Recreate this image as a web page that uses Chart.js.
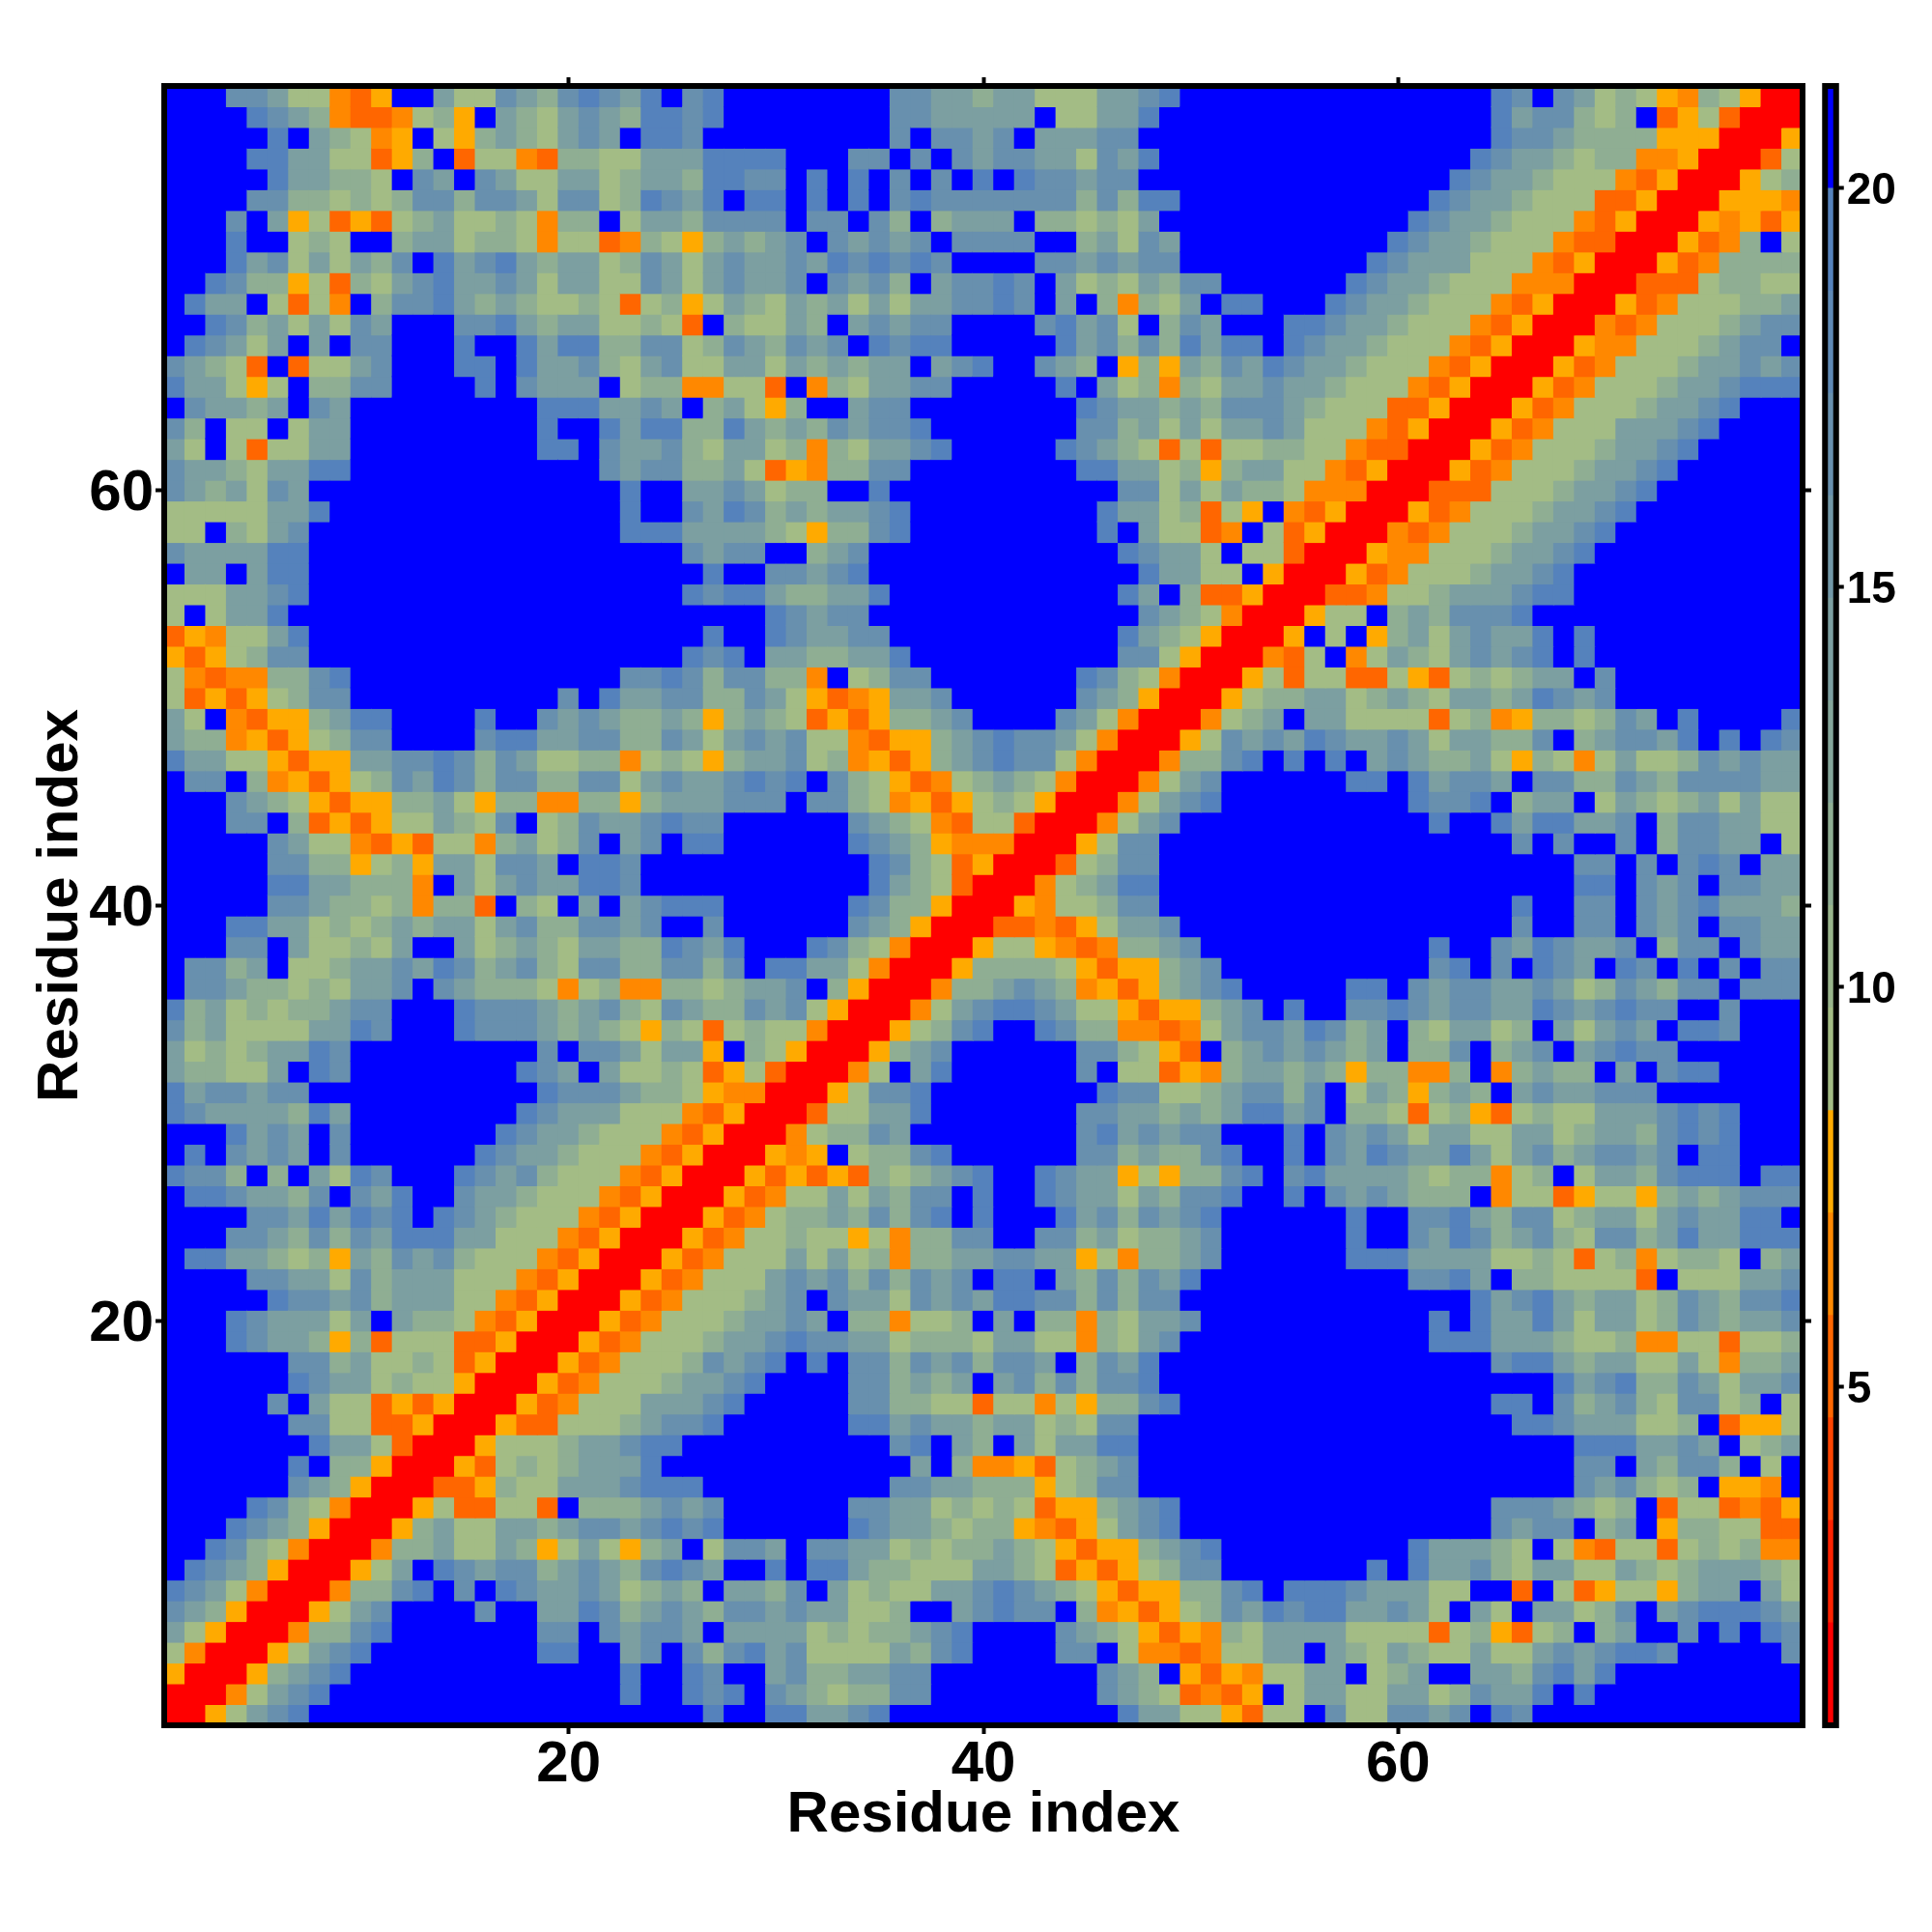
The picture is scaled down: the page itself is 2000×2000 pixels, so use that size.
<!DOCTYPE html>
<html>
<head>
<meta charset="utf-8">
<title>Residue distance map</title>
<script src="https://cdn.jsdelivr.net/npm/chart.js@4/dist/chart.umd.min.js"></script>
<style>
  body { margin: 0; background: #fff; }
  #map { position: absolute; left: 0; top: 0; }
  #bar { position: absolute; left: 1870px; top: 0; }
</style>
</head>
<body>
<canvas id="map" width="2000" height="2000"></canvas>
<canvas id="bar" width="130" height="2000"></canvas>
<script>
// distance values
const cellCodes = ['R', 'X', 'O', 'Y', 'a', 'b', 'c', 'd', 'e', 'B'];
const cellValues = [1.4, 5.25, 6.5, 7.8, 9.1, 11.6, 14.2, 16.8, 19.3, 21];

// colour key: 16 levels from barMin to barMax
const barMin = 0.76;
const barMax = 21.27;
const levelColors = [
  '#ff0000', '#ff2200', '#ff4400', '#ff6600', '#ff8800', '#ffaa00',
  '#a3bc85', '#99b58c', '#8fae93', '#85a69a', '#7c9fa1', '#7298a8',
  '#6890ae', '#5f89b5', '#5582bc', '#0000ff'
];

const mapTicks = [20, 40, 60];
const barTicks = [5, 10, 15, 20];
const axisTitle = 'Residue index';
const residueCount = 79;

// the map is symmetric: one line per residue, from the diagonal to residue 79
// a letter is one cell, a number after it repeats it
const upperRows = [
  'RRYacdeB19 eBBeeccdeB11eccaaY XaaBdaaddcdBedB13',
  'RROacdeB14eBBe deBdcbabbddB8dcbaXOX YBaccaaccabdcceBeB10',
  'RRYbcdeB13eBBe dBBcdbbccddB8dcbBYXY OaaccBabcBBccbdeceB9',
  'RRYacdeB8eeBBcdBd bdecdaaaacbdeB4ddBaOOXOa accBcbacbaacaacdcdeedB5d',
  'RRObbdeB7ddBdcddc BccccababbcdeB4dcbaYXYOb accccaaaaXabYXabBbcBBdBeBed',
  'RRYacdB4dBBccedbcdc bddcdccaabBBcdeddBbOYXYabd cedeeccdcaBcaBccabdBcdeeedc',
  'RRObbdeBdBedccdcabcb BccbdBcabaaccdedcbaYXYYbbd eBeeedcccaaBBXBaXYaaYbccBca',
  'RRYacBedcddbcdcbded cBBeBeecbbaaaccbaXYXYabddB B6eBeccdbaccaacbabcccba',
  'RRObbcaacbYacaYbcB addcBddccababbcbaYXYYbcdeB B8ecccbaBaOXaaXababOO',
  'RRYbcaaccbcddcded eB6edccbabbYOXYacdeB3 B12dcddBbcBYbbaaXX',
  'RRYaXXaaXBbbbcdc dB6ddccababaXYYbcdeB3 B12dddcbabBXaaXOXY',
  'RRXXYbaacccdeee B9ddccbbbYabddB5 B16dcdbabBYYOB',
  'RRYXababccceBB B10cBbOOYXabcdB5 B16ddBcbddbBaB',
  'RRYaaabccdeeB B9deBcbBcacceeB5 B16eeeccdcBabc',
  'RRYXXaaabcdd eB6eecdccbccabaddB5 B13eedcccaabBXYYa',
  'RRYXOaaaccc deB5ddbbaaXaaOaYbbdeB3 B12eeBdbcdbaddabBa',
  'RRYXOaaabc cdeB4ddbcbcBcdbdbddeB4 B15ecdebbdcaccd',
  'RRYXOaaab dcdeBeBddbdcdbddcBbdceB4 B12deecbccaacaObbc',
  'RRYXOaaa bccdeddccabbbaccaaObacdB3 B9eeecccbaabOOaaXaab',
  'RRYXOaa abccdcBbbOaabBcBbbObaccdBB B9eBeccecaccabdcbccd',
  'RRYXOa aabcdBdccadcdceeddbdbddB3 B11ecdecbccabdcbdde',
  'RRYXO aaacdcdbdbdcdBeeBcbdbdceBB B8ddecBbbaaaaXBaaaccd',
  'RRYX OaaacacabObbccddccYaObbcdB B5eeeccccaabaXabOabbaBbc',
  'RRY XOaabaaYaObbddBBddbcabbcdB B5eBBdcedbcdbaddbcecceee',
  'RR YXOabbcbdbdeBeBBBecdbdcdeB B5eBBddecbddabccacdcceeB',
  'R RYXOaacacbddBeBBedccacbdde BBeBdcdcbbbBOaaXYaaYbcbcddd',
  'RRYXYXYXbabcdeBBedccYaYbbd eBdeccccbabbOabBaccbdeeeBee',
  'RRYOYBabbdeB6ddbcbbde BBeBdcedccecacdbcddcdBeeB3',
  'RROabbdcB8decdcddB BBeBdcdcaccaaccabccbdedeB3',
  'RRXaacceB7ddccbcbc eecdBbbaXabYXabaacccdedeB3',
  'RRYaddeB8eddaabc ddbdBacbYbcbBcdccdddB7',
  'RROaBceB6dBaaXYOb ccbcbYbbOObBObcbbBcBdeeB4',
  'RRYbcdB6ddbaYXBb cdcdcbcBbbdBbcdBcdeddB6',
  'RRYabdeBBedbbOOXOac ddcedbcBbaccabBcacdcBeedB3',
  'RROacdeedcaaYXYYbc dBeBBddedcddccedcdeddBBdB3',
  'RRObbcdcbOYXYbcde B5eeBdcddccdcabdcbddBddd',
  'RRYbbbbaYXYYbcdB B9deBdBedcBedBeBdBdd',
  'RRYaaYOXObbcdBB B9eBBdcedccdBbddBdcc',
  'RRXXOXYaccdB3 B13dBBddBdcdBddcc',
  'RRYOaabddB4 B13eBBddBdcdecccb',
  'RROabceeB4 B16eeBdcdBddcc',
  'RRXabddB4 B16ddBdBdedBcc',
  'RRYaddB4 B13dBdBBdBbddccBa',
  'RROacdB3 B9eBBeceeccdBbddccaa',
  'RROacdeB B8eddeBbccBacbabcacaa',
  'RROacdB B5eeBecddcBddbbdcbddddcc',
  'RRObbd eBeBeBcdcbbcaYbaOacaabdcdcc',
  'RRYad cdcedccdcaccbbdBbcddceBeBed',
  'RROa bcBccaaaaXabOYbbabdcBeB4e',
  'RRY abbccabcbaccbcedcdB9',
  'RR YaXaaXXaYXababccBdB9',
  'R ROXaBOacbacdcdeBeB10',
  'RRYBaBYbcacdcceBeB10',
  'RRYaaBbcbdddeB13',
  'RRXXOaabcccdeeB11',
  'RRYXOaaabccdeB11',
  'RRYOOaaabccdeB10',
  'RROXOaaabccdeB9',
  'RRYXOaaabccdeB8',
  'RRXXXaaabccdeB7',
  'RRYXOaaabccdeB6',
  'RRYXOaaabccdeB5',
  'RRYXOaaacccdeB4',
  'RRYXOaaabccdeB3',
  'RRYXOaaabccdeee',
  'RRYXOaaabccdcd',
  'RRYOOaaabcddB',
  'RROXOaaabcdd',
  'RRYXOaaabbc',
  'RRXXXabbaa',
  'RRYXObbbb',
  'RRYXObBa',
  'RRYOYXY',
  'RRYYYO',
  'RRYab',
  'RRXa',
  'RRY',
  'RR',
  'R'
];

const fontFamily = '"Liberation Sans", Arial, sans-serif';
const levelStep = (barMax - barMin) / levelColors.length;

function levelOf(value) {
  return Math.min(levelColors.length - 1, Math.floor((value - barMin) / levelStep));
}

// "RB3a" -> ['R','B','B','B','a']
function decodeRow(text) {
  const cells = [];
  for (const m of text.replace(/ /g, '').matchAll(/([A-Za-z])(\d*)/g)) {
    const count = m[2] ? parseInt(m[2]) : 1;
    for (let i = 0; i < count; i++) cells.push(m[1]);
  }
  return cells;
}

// build the cells, one bar per residue pair
const points = [];
const colors = [];
upperRows.forEach((text, r) => {
  const cells = decodeRow(text);
  if (cells.length !== residueCount - r) {
    throw new Error(`row ${r + 1} has ${cells.length} cells`);
  }
  cells.forEach((code, i) => {
    const value = cellValues[cellCodes.indexOf(code)];
    const color = levelColors[levelOf(value)];
    const a = r + 1;
    const b = r + 1 + i;
    points.push({ x: b, y: [a - 0.5, a + 0.5] });
    colors.push(color);
    if (a !== b) {
      points.push({ x: a, y: [b - 0.5, b + 0.5] });
      colors.push(color);
    }
  });
});

// thick black box round the plot area
const framePlugin = {
  id: 'frame',
  afterDraw(chart) {
    const { ctx, chartArea } = chart;
    ctx.save();
    ctx.strokeStyle = '#000';
    ctx.lineWidth = 6;
    ctx.strokeRect(chartArea.left, chartArea.top, chartArea.width, chartArea.height);
    ctx.restore();
  }
};

function useTicks(values) {
  return scale => { scale.ticks = values.map(value => ({ value })); };
}

function mapAxis(position, size, showLabels, title) {
  const horizontal = position === 'top' || position === 'bottom';
  const axis = {
    type: 'linear',
    position,
    min: 0.5,
    max: residueCount + 0.5,
    offset: false,
    afterBuildTicks: useTicks(mapTicks),
    afterFit(scale) {
      if (horizontal) scale.height = size; else scale.width = size;
    },
    border: { display: false },
    grid: { display: true, offset: false, drawOnChartArea: false, tickLength: 9, tickWidth: 4, tickColor: '#000' },
    ticks: {
      display: showLabels,
      autoSkip: false,
      maxRotation: 0,
      padding: horizontal ? -4 : 2,
      labelOffset: horizontal ? 0 : 4,
      color: '#000',
      font: { family: fontFamily, weight: 'bold', size: 60 }
    }
  };
  if (title) {
    axis.title = {
      display: true,
      text: axisTitle,
      color: '#000',
      font: { family: fontFamily, weight: 'bold', size: 60 },
      padding: title
    };
  }
  return axis;
}

new Chart(document.getElementById('map'), {
  type: 'bar',
  data: {
    datasets: [{
      data: points,
      backgroundColor: colors,
      borderWidth: 0,
      inflateAmount: 0.5,
      barPercentage: 1,
      categoryPercentage: 1,
      grouped: false
    }]
  },
  options: {
    responsive: false,
    animation: false,
    events: [],
    layout: { padding: 0 },
    plugins: { legend: { display: false }, tooltip: { enabled: false } },
    scales: {
      x: mapAxis('bottom', 214, true, { top: 0, bottom: 85 }),
      x2: mapAxis('top', 89, false),
      y: mapAxis('left', 170, true, { top: 27, bottom: 0 }),
      y2: mapAxis('right', 134, false)
    }
  },
  plugins: [framePlugin]
});

// colour key
const barLevels = levelColors.map((_, i) => [barMin + i * levelStep, barMin + (i + 1) * levelStep]);

new Chart(document.getElementById('bar'), {
  type: 'bar',
  data: {
    labels: ['key'],
    datasets: barLevels.map((level, i) => ({
      data: [level],
      backgroundColor: levelColors[i],
      borderWidth: 0,
      inflateAmount: 0.5,
      barPercentage: 1,
      categoryPercentage: 1,
      grouped: false
    }))
  },
  options: {
    responsive: false,
    animation: false,
    events: [],
    layout: { padding: { left: 19.25, top: 89, bottom: 214, right: 0 } },
    plugins: { legend: { display: false }, tooltip: { enabled: false } },
    scales: {
      x: { display: false },
      y: {
        type: 'linear',
        position: 'right',
        min: barMin,
        max: barMax,
        afterBuildTicks: useTicks(barTicks),
        afterFit(scale) { scale.width = 99.25; },
        border: { display: false },
        grid: { display: true, drawOnChartArea: false, tickLength: 8, tickWidth: 4, tickColor: '#000' },
        ticks: {
          padding: 3,
          labelOffset: 4,
          color: '#000',
          font: { family: fontFamily, weight: 'bold', size: 46 }
        }
      }
    }
  },
  plugins: [framePlugin]
});
</script>
</body>
</html>
